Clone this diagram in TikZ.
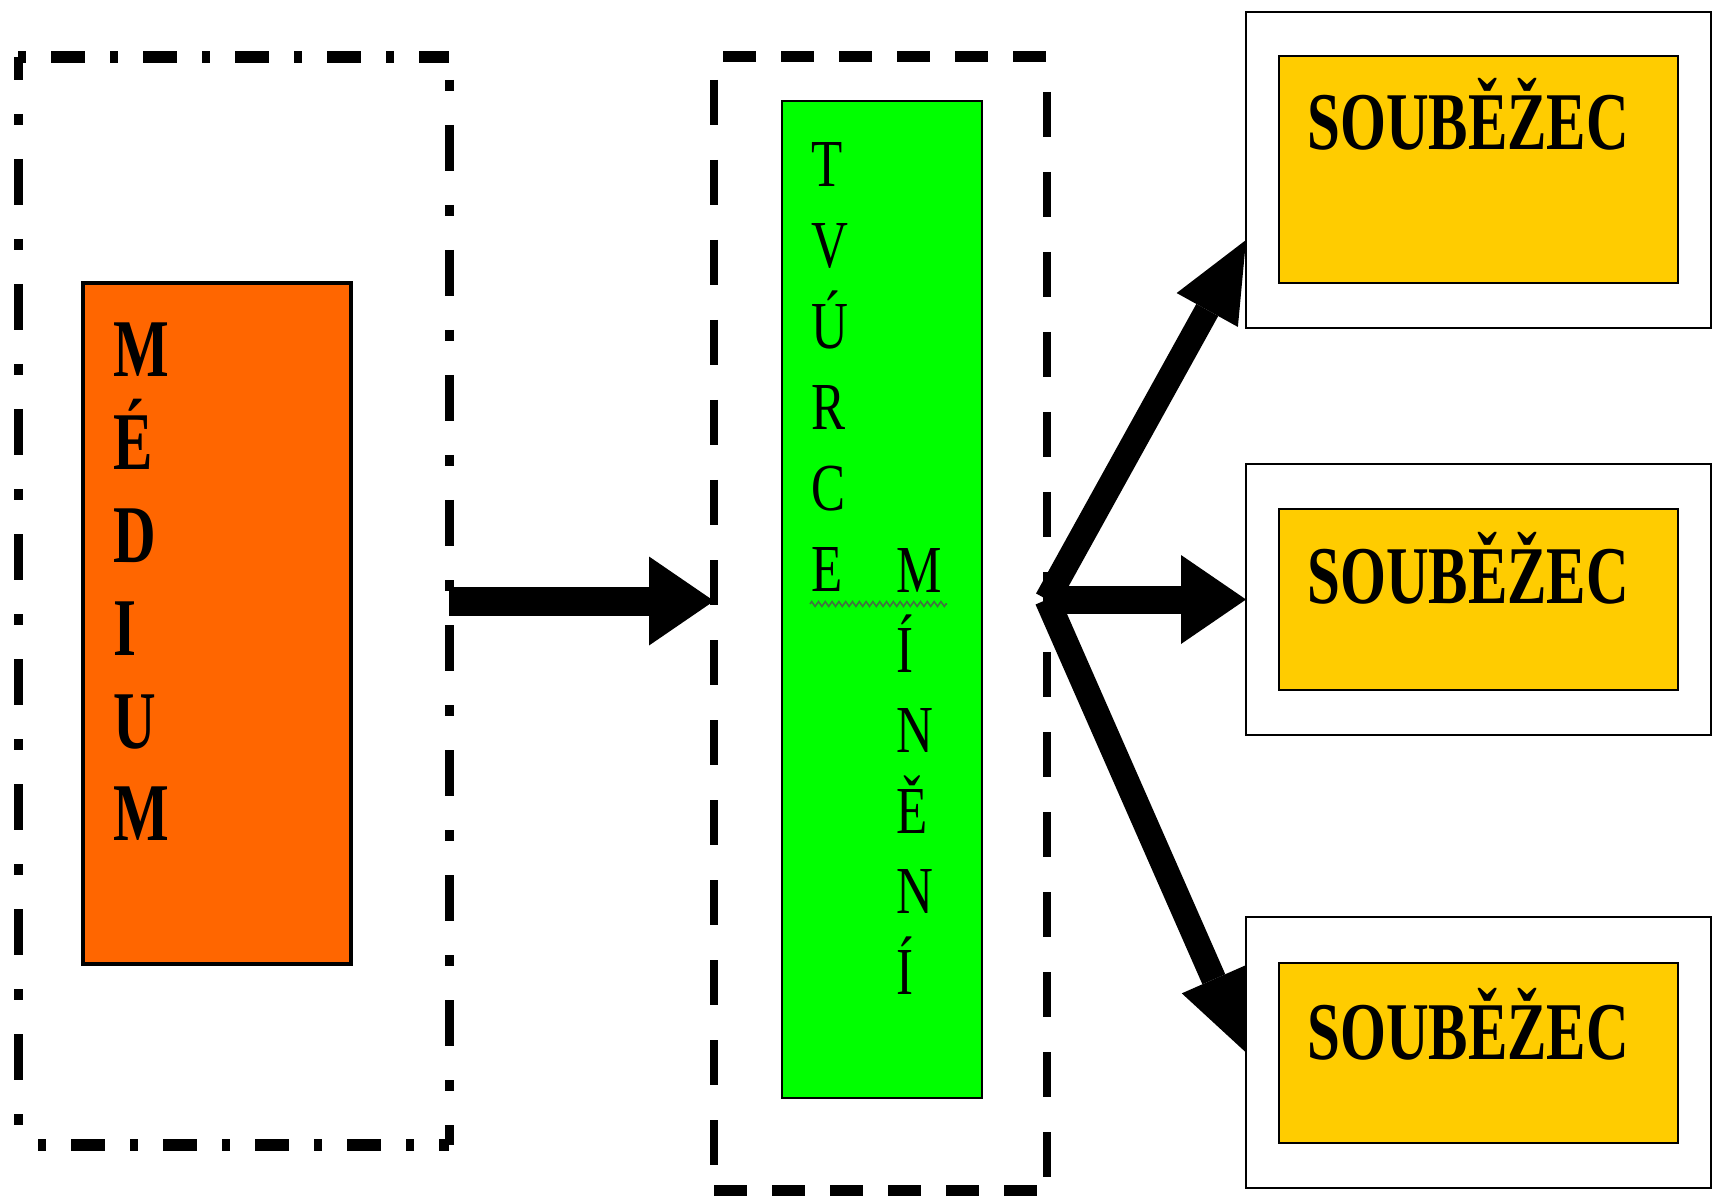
\documentclass[tikz,border=0pt]{standalone}
\usepackage{fontspec}
\setmainfont{Liberation Serif}
\usepackage{graphicx}
\usetikzlibrary{arrows.meta,decorations.pathmorphing}
\definecolor{medorange}{HTML}{FF6600}
\definecolor{tvgreen}{HTML}{00FF00}
\definecolor{soubyellow}{HTML}{FFCC00}
\begin{document}
\begin{tikzpicture}[x=0.5pt,y=-0.5pt,
  region/.style={inner sep=0pt, outer sep=0pt},
  solidbox/.style={draw=black, line width=1.3pt, inner sep=0pt, outer sep=0pt},
  ddh/.style={line width=6pt, dash pattern=on 4pt off 12.5pt on 17pt off 12.5pt},
  ddv/.style={line width=4.5pt, dash pattern=on 5.5pt off 17pt on 23pt off 17pt},
  dsh/.style={line width=5.5pt, dash pattern=on 16.5pt off 12.5pt},
  dsv/.style={line width=4pt, dash pattern=on 22.5pt off 17.5pt},
  fat/.style={line width=#1, -{Triangle[length=32.5pt,width=44.5pt,line width=0pt]}},
  slant/.style={line width=#1, -{Triangle[length=40pt,width=35pt,line width=0pt]}},
  boldletters/.style={anchor=base west, inner sep=0pt, font=\fontsize{41}{41}\selectfont\bfseries},
  plainletters/.style={anchor=base west, inner sep=0pt, font=\fontsize{33.6}{33.6}\selectfont},
]
\useasboundingbox[fill=white] (0,0) rectangle (1717,1197);

% ---- left dash-dot region and orange box
\node[region, minimum width=215.5pt, minimum height=544pt] (lbox) at (233.5,601) {};
\draw[ddh] (lbox.north west) -- (lbox.north east);
\draw[ddh, dash phase=36pt] (lbox.south west) -- (lbox.south east);
\draw[ddv, dash phase=11.5pt, dash pattern=on 23pt off 17pt on 5.5pt off 17pt] (lbox.north west) -- (lbox.south west);
\draw[ddv, dash phase=51pt] (lbox.north east) -- (lbox.south east);
\node[solidbox, line width=1.6pt, fill=medorange, minimum width=134pt, minimum height=340.5pt] (orange) at (217,623.5) {};
\node[boldletters] (medtext) at (113,377) {\scalebox{0.72}[1]{\vtop{\baselineskip=46.4pt\lineskiplimit=-100pt
  \hbox{M}\hbox{É}\hbox{D}\hbox{I}\hbox{U}\hbox{M}}}};

% ---- middle dashed region and green box
\node[region, minimum width=166.5pt, minimum height=566.5pt] (dbox) at (880.5,623.5) {};
\draw[dsh, dash phase=24.5pt] (dbox.north west) -- (dbox.north east);
\draw[dsh] (dbox.south west) -- (dbox.south east);
\draw[dsv, dash phase=28.5pt] (dbox.north west) -- (dbox.south west);
\draw[dsv, dash phase=22.5pt] (dbox.north east) -- (dbox.south east);
\node[solidbox, line width=1.1pt, fill=tvgreen, minimum width=100pt, minimum height=498.5pt] (green) at (882,599.5) {};
\node[plainletters] (tvtext) at (811,187) {\scalebox{0.76}[1]{\vtop{\baselineskip=40.5pt\lineskiplimit=-100pt
  \hbox{T}\hbox{V}\hbox{Ú}\hbox{R}\hbox{C}\hbox{E}}}};
\node[plainletters] (mintext) at (896,592) {\scalebox{0.76}[1]{\vtop{\baselineskip=40.2pt\lineskiplimit=-100pt
  \hbox{M}\hbox{Í}\hbox{N}\hbox{Ě}\hbox{N}\hbox{Í}}}};
\coordinate (sqa) at (810,604);
\coordinate (sqb) at (947,604);
\draw[black!60!green!50!gray, line width=0.8pt, decorate, decoration={zigzag, segment length=3.4pt, amplitude=1.2pt}] (sqa) -- (sqb);

% ---- right boxes
\node[solidbox, fill=white, minimum width=232.5pt, minimum height=158pt] (w1) at (1478.5,170) {};
\node[solidbox, fill=soubyellow, minimum width=199.5pt, minimum height=113.5pt] (y1) at (1478.5,169.5) {};
\node[solidbox, fill=white, minimum width=232.5pt, minimum height=135.5pt] (w2) at (1478.5,599.5) {};
\node[solidbox, fill=soubyellow, minimum width=199.5pt, minimum height=90.5pt] (y2) at (1478.5,599.5) {};
\node[solidbox, fill=white, minimum width=232.5pt, minimum height=135.5pt] (w3) at (1478.5,1052.5) {};
\node[solidbox, fill=soubyellow, minimum width=199.5pt, minimum height=90pt] (y3) at (1478.5,1053) {};
\node[boldletters] (s1) at (1307,150) {\scalebox{0.72}[1]{SOUBĚŽEC}};
\node[boldletters] (s2) at (1307,603) {\scalebox{0.72}[1]{SOUBĚŽEC}};
\node[boldletters] (s3) at (1307,1059) {\scalebox{0.72}[1]{SOUBĚŽEC}};

% ---- arrows
\draw[fat=14.5pt] (lbox.east) -- (lbox.east -| dbox.west);
\coordinate (fork) at (dbox.east |- w2.west);
\draw[slant=12.5pt] (fork) -- ([yshift=-35pt]w1.west);
\draw[fat=14pt] (fork) -- (w2.west);
\draw[slant=12.5pt] (fork) -- (w3.west);
\end{tikzpicture}
\end{document}
